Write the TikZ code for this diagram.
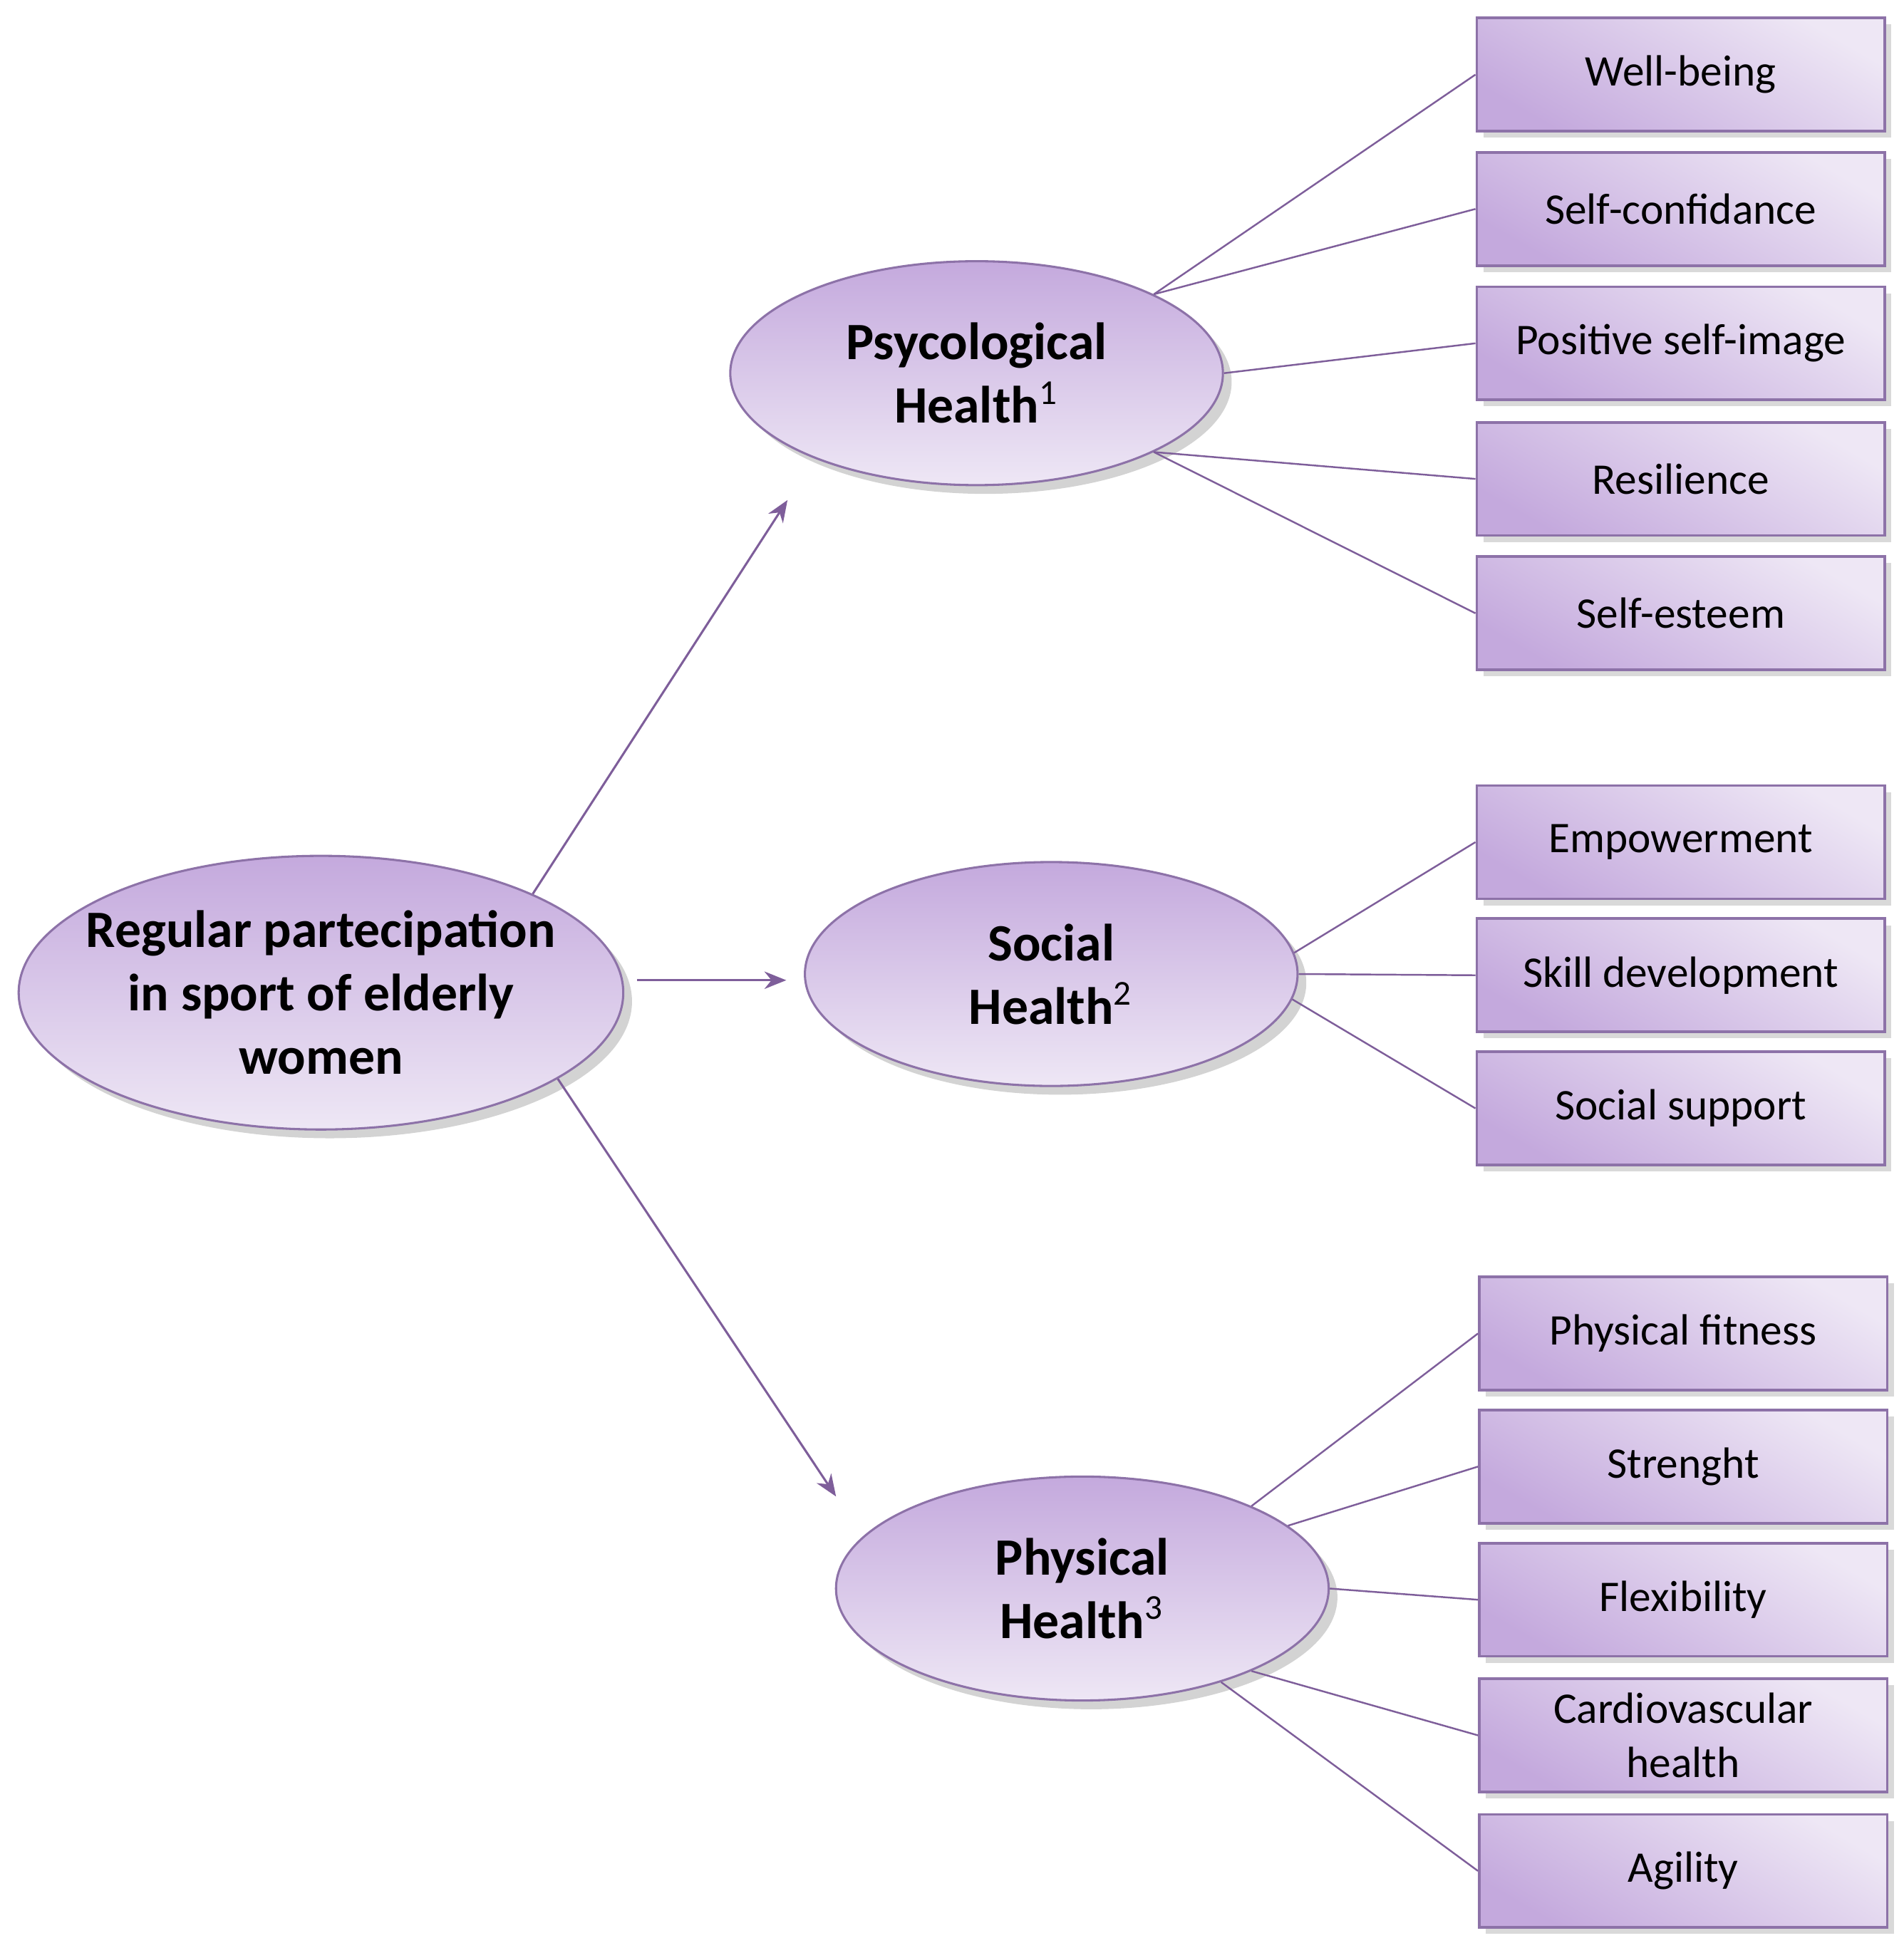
\documentclass[tikz,border=0pt]{standalone}
\usepackage{fontspec}
\setmainfont{Carlito}
\usetikzlibrary{shapes.geometric,arrows.meta,shadows}
\definecolor{pdark}{HTML}{C4A9DD}
\definecolor{plight}{HTML}{EEE7F5}
\definecolor{pline}{HTML}{7E5E9A}
\definecolor{pedge}{HTML}{8D72A8}
\begin{document}
\begin{tikzpicture}[x=0.1mm,y=-0.1mm,
  ell/.style={ellipse,draw=pedge,line width=0.5pt,top color=pdark,bottom color=plight,
    drop shadow={shadow xshift=2pt,shadow yshift=-2pt,opacity=0.35},
    font=\fontsize{12}{14.5}\selectfont\bfseries,align=center,inner sep=0pt},
  box/.style={rectangle,draw=pedge,line width=0.6pt,minimum width=32.8mm,minimum height=9.1mm,
    shading=axis,left color=plight,right color=pdark,shading angle=-30,
    drop shadow={shadow xshift=1.5pt,shadow yshift=-1.5pt,opacity=0.3},
    font=\fontsize{10}{12.5}\selectfont,align=center,inner sep=1pt},
  arr/.style={draw=pline,line width=0.5pt,-{Stealth[length=5pt,width=4pt]}},
  lnk/.style={draw=pline,line width=0.4pt}]
\useasboundingbox (0,0) rectangle (1530,1570);
\node[ell,minimum width=48.6mm,minimum height=22mm,inner xsep=-6mm] (main) at (258,798) {Regular partecipation\\in sport of elderly\\women};
\node[ell,minimum width=39.6mm,minimum height=18mm] (psy) at (785,300) {Psycological\\Health$^{\mathrm{1}}$};
\node[ell,minimum width=39.6mm,minimum height=18mm] (soc) at (845,783) {Social\\Health$^{\mathrm{2}}$};
\node[ell,minimum width=39.6mm,minimum height=18mm] (phy) at (870,1277) {Physical\\Health$^{\mathrm{3}}$};

\node[box] (b1) at (1351,60) {Well-being};
\node[box] (b2) at (1351,168) {Self-confidance};
\node[box] (b3) at (1351,276) {Positive self-image};
\node[box] (b4) at (1351,385) {Resilience};
\node[box] (b5) at (1351,493) {Self-esteem};
\node[box] (c1) at (1351,677) {Empowerment};
\node[box] (c2) at (1351,784) {Skill development};
\node[box] (c3) at (1351,891) {Social support};
\node[box] (d1) at (1353,1072) {Physical fitness};
\node[box] (d2) at (1353,1179) {Strenght};
\node[box] (d3) at (1353,1286) {Flexibility};
\node[box] (d4) at (1353,1395) {Cardiovascular\\health};
\node[box] (d5) at (1353,1504) {Agility};

\coordinate (ap) at (633,402);
\coordinate (as) at (632,788);
\coordinate (ah) at (672,1203);
\coordinate (ms) at (512,788);
\draw[arr] (main.25) -- (ap);
\draw[arr] (ms) -- (as);
\draw[arr] (main.-20) -- (ah);

\draw[lnk] (psy.24) -- (b1.west);
\draw[lnk] (psy.24) -- (b2.west);
\draw[lnk] (psy.0) -- (b3.west);
\draw[lnk] (psy.-24) -- (b4.west);
\draw[lnk] (psy.-24) -- (b5.west);
\draw[lnk] (soc.5) -- (c1.west);
\draw[lnk] (soc.0) -- (c2.west);
\draw[lnk] (soc.-6) -- (c3.west);
\draw[lnk] (phy.26) -- (d1.west);
\draw[lnk] (phy.17) -- (d2.west);
\draw[lnk] (phy.0) -- (d3.west);
\draw[lnk] (phy.-26) -- (d4.west);
\draw[lnk] (phy.-34) -- (d5.west);
\end{tikzpicture}
\end{document}
